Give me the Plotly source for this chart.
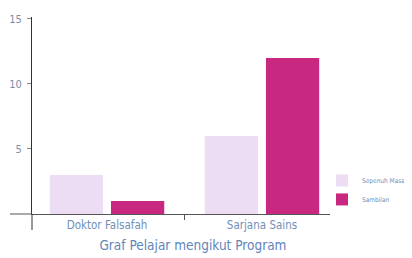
import plotly.graph_objects as go

categories = ["Doktor Falsafah", "Sarjana Sains"]
sepenuh_masa = [3, 6]
sambilan = [1, 12]
y_ticks = [5, 10, 15]

FONT = "Liberation Sans Narrow, DejaVu Sans Condensed, Roboto, sans-serif"
TXT = "#6f8fb8"

fig = go.Figure()
fig.add_trace(go.Bar(x=categories, y=sepenuh_masa, name="Sepenuh Masa",
                     marker=dict(color="#ecdcf4", line=dict(width=0))))
fig.add_trace(go.Bar(x=categories, y=sambilan, name="Sambilan",
                     marker=dict(color="#c8287f", line=dict(width=0))))

# page body has an 8px margin, so the figure is 8px smaller on each side
fig.update_layout(
    width=404, height=250,
    margin=dict(l=24, r=82, t=9, b=44, autoexpand=False),
    paper_bgcolor="white", plot_bgcolor="white",
    barmode="group", bargap=0.21, bargroupgap=0.13,
    font=dict(family=FONT, color=TXT),
    title=dict(text="Graf Pelajar mengikut Program", font=dict(size=13.5, color="#5f86b8", family=FONT),
               xref="paper", x=0.54, xanchor="center", yref="container", y=0.052, yanchor="middle",
               automargin=False),
    legend=dict(x=(314 - 24) / 298, xanchor="left", y=0.244, yanchor="top",
                font=dict(size=6.5, color=TXT, family=FONT), bgcolor="rgba(0,0,0,0)",
                itemwidth=30),
    showlegend=True,
)
fig.update_xaxes(type="category", range=[-0.484, 1.439], showline=True, linecolor="#555555",
                 linewidth=1, ticks="outside", tickson="boundaries", ticklen=5, tickcolor="#555555",
                 tickfont=dict(size=11.5, color=TXT, family=FONT), showgrid=False, zeroline=False,
                 automargin=False)
fig.update_yaxes(range=[0, 15.15], tickvals=y_ticks, showline=True, linecolor="#333333", linewidth=1,
                 ticks="outside", ticklen=4, tickcolor="#888888", ticklabelstandoff=3,
                 tickfont=dict(size=11, color="#7b8ea8", family=FONT), showgrid=False, zeroline=False,
                 automargin=False)

# axis extensions (the axes cross each other)
fig.add_shape(type="line", xref="paper", yref="paper", x0=0, x1=0, y0=-16/197, y1=0,
              line=dict(color="#333333", width=1))
fig.add_shape(type="line", xref="paper", yref="paper", x0=-22/298, x1=0, y0=0, y1=0,
              line=dict(color="#555555", width=1))

fig.write_html("out.html")
